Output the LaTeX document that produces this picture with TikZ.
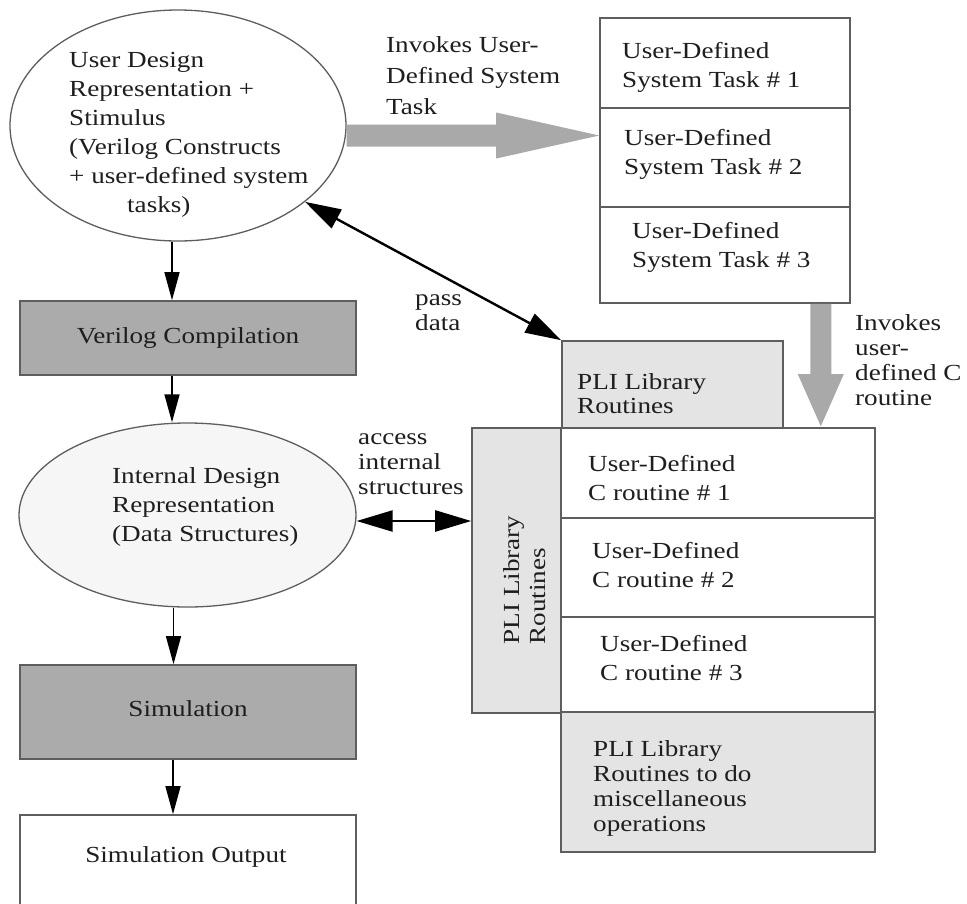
\documentclass[tikz,border=0pt]{standalone}
\usepackage{fontspec}
\setmainfont{Liberation Serif}[FakeStretch=1.18]
\usetikzlibrary{shapes.geometric,arrows.meta,calc}
\definecolor{darkfill}{HTML}{ABABAB}
\definecolor{lightfill}{HTML}{E4E4E4}
\definecolor{palefill}{HTML}{F6F6F6}
\definecolor{blockgray}{HTML}{A9A9A9}
\definecolor{edge}{HTML}{5E5E5E}
\definecolor{ink}{HTML}{1E1E1E}
\begin{document}
\begin{tikzpicture}[x=1pt,y=-1pt,
  box/.style={draw=edge, line width=1.6pt, rectangle, inner sep=0pt,
    font=\fontsize{23}{29}\selectfont, text=ink},
  oval/.style={draw=edge, line width=1.3pt, ellipse, inner sep=0pt},
  lbl/.style={font=\fontsize{23}{29}\selectfont, align=left, inner sep=0pt, anchor=west, text=ink},
  tight/.style={font=\fontsize{23}{25}\selectfont},
  flow/.style={draw=black, line width=1.4pt, -{Triangle[length=28pt,width=15pt]}},
  both/.style={draw=black, line width=2.4pt, {Triangle[length=36pt,width=21pt]}-{Triangle[length=36pt,width=21pt]}},
  block/.style={fill=blockgray}
]
\useasboundingbox (0,0) rectangle (967,903);
\clip (0,0) rectangle (967,903);
\fill[white] (0,0) rectangle (967,903);

% top ellipse
\node[oval, minimum width=336, minimum height=231] (ue) at (178,125.5) {};
\node[lbl] (uetxt) at (69,134.5) {User Design\\Representation +\\Stimulus\\(Verilog Constructs\\+ user-defined system\\\hspace*{58pt}tasks)};

% system task cells
\node[box, minimum width=250, minimum height=90] (t1) at (725,63) {};
\node[box, minimum width=250, minimum height=99] (t2) at (725,157.5) {};
\node[box, minimum width=250, minimum height=96] (t3) at (725,255) {};
\node[lbl] (t1txt) at (622,67) {User-Defined\\System Task \# 1};
\node[lbl] (t2txt) at (624,154) {User-Defined\\System Task \# 2};
\node[lbl] (t3txt) at (632,247) {User-Defined\\System Task \# 3};

% PLI boxes
\node[box, fill=lightfill, minimum width=221, minimum height=87] (pliTop) at (672.5,384.5) {};
\node[lbl, font=\fontsize{23}{24}\selectfont] (pliToptxt) at (577,394) {PLI Library\\Routines};
\node[box, fill=lightfill, minimum width=89, minimum height=285] (pliV) at (516.5,570.5) {};
\node[lbl, anchor=center, rotate=90, font=\fontsize{23}{26}\selectfont] (pliVtxt) at (525,580) {PLI Library\\Routines};

% C routine cells
\node[box, minimum width=314, minimum height=90] (c1) at (718,473) {};
\node[box, minimum width=314, minimum height=99] (c2) at (718,567.5) {};
\node[box, minimum width=314, minimum height=95] (c3) at (718,664.5) {};
\node[box, fill=lightfill, minimum width=314, minimum height=140] (misc) at (718,782) {};
\node[lbl] (c1txt) at (588,478) {User-Defined\\C routine \# 1};
\node[lbl] (c2txt) at (592,565) {User-Defined\\C routine \# 2};
\node[lbl] (c3txt) at (600,658) {User-Defined\\C routine \# 3};
\node[lbl, tight] (misctxt) at (593,788.5) {PLI Library\\Routines to do\\miscellaneous\\operations};

% left column
\node[box, fill=darkfill, minimum width=336, minimum height=74] (vc) at (188,338) {Verilog Compilation};
\node[oval, fill=palefill, minimum width=337, minimum height=184] (ide) at (187.5,515) {};
\node[lbl] (idetxt) at (112,507) {Internal Design\\Representation\\(Data Structures)};
\node[box, fill=darkfill, minimum width=336, minimum height=94] (sim) at (188,712) {\raisebox{7pt}{Simulation}};
\node[box, minimum width=336, minimum height=120] (out) at (188,875) {};
\node[lbl, anchor=center] (outtxt) at (186,857) {Simulation Output};

% labels
\node[lbl, font=\fontsize{23}{31}\selectfont] (invtask) at (386,76) {Invokes User-\\Defined System\\Task};
\node[lbl, tight] (invc) at (855,360) {Invokes\\user-\\defined C\\routine};
\node[lbl, tight] (passlbl) at (415,313) {pass\\data};
\node[lbl, tight] (acclbl) at (358,464) {access\\internal\\structures};

% flow arrows
\draw[flow] ([xshift=-6pt]ue.south) -- ([xshift=-6pt]ue.south |- vc.north);
\draw[flow] ([xshift=-16pt]vc.south) -- ([xshift=-16pt]vc.south |- ide.north);
\draw[flow] ([xshift=-14pt]ide.south) -- ([xshift=-14pt]ide.south |- sim.north);
\draw[flow] ([xshift=-15pt]sim.south) -- ([xshift=-15pt]sim.south |- out.north);

% double arrows
\draw[both] ([yshift=-6pt]ide.east) -- ([yshift=-6pt]ide.east -| pliV.west);
\draw[both] (ue.-31) -- (pliTop.north west);

% block arrows
\coordinate (ra) at ([yshift=-10pt]ue.east);
\coordinate (rb) at ([yshift=-10pt]ue.east -| t2.west);
\fill[block] ($(ra)+(0,-11)$) -- ($(rb)+(-103,-11)$) -- ($(rb)+(-103,-23)$) -- (rb)
  -- ($(rb)+(-103,23)$) -- ($(rb)+(-103,11)$) -- ($(ra)+(0,11)$) -- cycle;
\coordinate (da) at ($(t3.south east)+(-30,0)$);
\coordinate (db) at ($(c1.north east)+(-55,-1)$);
\fill[block] ($(da)+(-10.5,0)$) -- ($(db)+(-10.5,-52)$) -- ($(db)+(-23,-52)$) -- (db)
  -- ($(db)+(23,-52)$) -- ($(db)+(10.5,-52)$) -- ($(da)+(10.5,0)$) -- cycle;
\end{tikzpicture}
\end{document}
